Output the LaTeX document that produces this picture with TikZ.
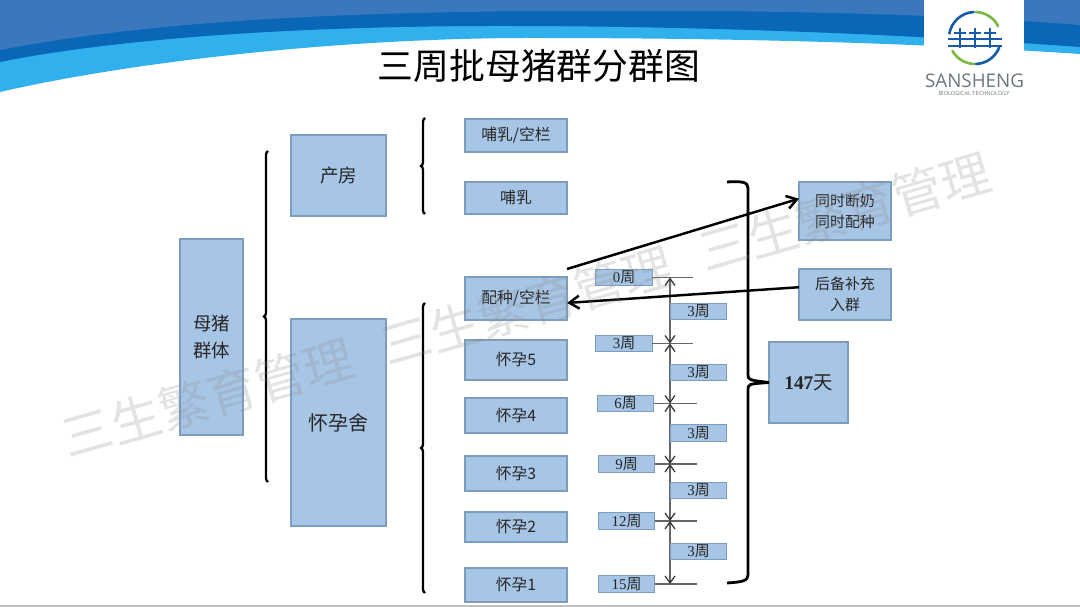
\documentclass[tikz,border=0pt]{standalone}
\usepackage{xcolor}
\usepackage{fontspec}
\setmainfont{Liberation Serif}
\newfontfamily\cjk{Noto Sans CJK SC}
\newfontfamily\logofont{Open Sans}
\usetikzlibrary{positioning,arrows.meta,decorations.pathreplacing}
\definecolor{BoxFill}{RGB}{167,197,229}
\definecolor{BoxLine}{RGB}{125,157,191}
\definecolor{BannerTop}{RGB}{58,119,189}
\definecolor{BannerMid}{RGB}{10,102,182}
\definecolor{BannerLow}{RGB}{49,176,238}
\definecolor{LogoBlue}{RGB}{24,92,168}
\definecolor{LogoGreen}{RGB}{122,186,66}
\definecolor{LogoGrey}{RGB}{110,118,126}
\tikzset{
  box/.style={draw=BoxLine, line width=0.8pt, fill=BoxFill, inner sep=0pt, outer sep=0pt, align=center, text=black!85, font=\cjk\fontsize{9}{13}\selectfont},
  roombox/.style={box, minimum width=1.9cm},
  penbox/.style={box, minimum width=2.04cm},
  weekbox/.style={box, minimum width=1.13cm, minimum height=0.33cm, font=\fontsize{8.5}{10}\selectfont},
  tickline/.style={draw=black!60, line width=0.6pt},
  dimline/.style={draw=black!60, line width=0.7pt, {Straight Barb[length=1.4mm,width=2mm,black!80]}-{Straight Barb[length=1.4mm,width=2mm,black!80]}},
  sidebrace/.style={draw=black, line width=1.3pt, decorate, decoration={brace,amplitude=0.08cm,aspect=0.5}},
  bigarrow/.style={draw=black, line width=1.4pt, -{Straight Barb[length=2mm,width=2.6mm]}},
  stamp/.style={rotate=16, text=black!45, text opacity=0.24, font=\cjk\fontsize{28.5}{28.5}\selectfont},
  logoarc/.style={line width=1.5pt, line cap=round}
}

\begin{document}
\begin{tikzpicture}[x=0.02cm, y=-0.02cm]
  \useasboundingbox (0,0) rectangle (1080,607);
  \fill[white] (0,0) rectangle (1080,607);
  \fill[BannerLow] (0,0) -- (0,92) .. controls (130,62) and (340,38) .. (530,38) .. controls (720,38) and (900,42) .. (1080,54) -- (1080,0) -- cycle;
  \fill[BannerMid] (0,0) -- (0,62) .. controls (120,38) and (300,26) .. (500,26) .. controls (700,26) and (900,34) .. (1080,47) -- (1080,0) -- cycle;
  \fill[BannerTop] (0,0) -- (0,50) .. controls (130,25) and (300,12) .. (560,11) .. controls (760,10) and (930,13) .. (1080,25) -- (1080,0) -- cycle;
  \fill[black!25] (0,605.5) rectangle (1080,607);

  \fill[white] (924,0) rectangle (1024,80);
  \draw[LogoBlue, logoarc] ([shift={(170:0.52cm)}]975,38) arc[start angle=170, end angle=93, radius=0.52cm];
  \draw[LogoGreen, logoarc] ([shift={(88:0.52cm)}]975,38) arc[start angle=88, end angle=27, radius=0.52cm];
  \draw[LogoGreen, logoarc] ([shift={(210:0.52cm)}]975,38) arc[start angle=210, end angle=268, radius=0.52cm];
  \draw[LogoBlue, logoarc] ([shift={(272:0.52cm)}]975,38) arc[start angle=272, end angle=339, radius=0.52cm];
  \foreach \barx in {960,975,990}{
    \draw[LogoBlue, line width=1.4pt] (\barx-6,33) -- (\barx+6,33);
    \draw[LogoBlue, line width=1.4pt] (\barx,28) -- (\barx,48);
  }
  \draw[LogoBlue, line width=1.6pt] (948,39) -- (1002,39);
  \draw[LogoBlue, line width=1.6pt] (948,46) -- (1002,46);
  \node[inner sep=0pt, text=LogoGrey, font=\logofont\fontsize{10.7}{12}\selectfont] (brand) at (974.5,81) {SANSHENG};
  \node[inner sep=0pt, text=LogoGrey, font=\logofont\fontsize{3.2}{4}\selectfont] (brandsub) at (974,93) {BIOLOGICAL TECHNOLOGY};

  \node[inner sep=0pt, text=black, font=\cjk\fontsize{20.4}{24}\selectfont] (title) at (539,66) {三周批母猪群分群图};

  \node[box, minimum width=1.26cm, minimum height=3.92cm, font=\cjk\fontsize{10.5}{15}\selectfont] (herd) at (211.5,337) {母猪\\群体};
  \node[roombox, minimum height=1.62cm, font=\cjk\fontsize{10.5}{13}\selectfont] (farrow) at (338.5,175.5) {产房};
  \node[roombox, minimum height=4.14cm, font=\cjk\fontsize{11.4}{13}\selectfont] (gest) at (338.5,422.5) {怀孕舍};

  \node[penbox, minimum height=0.66cm] (nurseA) at (516,135.5) {哺乳/空栏};
  \node[penbox, minimum height=0.64cm, below=0.6cm of nurseA] (nurseB) {哺乳};
  \node[penbox, minimum height=0.86cm] (breed) at (516,298.5) {配种/空栏};
  \node[penbox, minimum height=0.8cm, below=0.4cm of breed] (preg5) {怀孕5};
  \node[penbox, minimum height=0.7cm, below=0.36cm of preg5] (preg4) {怀孕4};
  \node[penbox, minimum height=0.7cm, below=0.46cm of preg4] (preg3) {怀孕3};
  \node[penbox, minimum height=0.6cm, below=0.42cm of preg3] (preg2) {怀孕2};
  \node[penbox, minimum height=0.68cm, below=0.52cm of preg2] (preg1) {怀孕1};

  \node[weekbox] (w0) at (624,277.5) {0\cjk 周};
  \node[weekbox] (w3) at (624,343.5) {3\cjk 周};
  \node[weekbox] (w6) at (625.5,403.5) {6\cjk 周};
  \node[weekbox] (w9) at (626.5,464) {9\cjk 周};
  \node[weekbox] (w12) at (626.5,521) {12\cjk 周};
  \node[weekbox] (w15) at (626.5,584) {15\cjk 周};

  \coordinate (t0) at (693,277.5);
  \coordinate (t3) at (693,343.5);
  \coordinate (t6) at (697,403.5);
  \coordinate (t9) at (697,464);
  \coordinate (t12) at (697,521);
  \coordinate (t15) at (697,584);
  \draw[tickline] (w0.east) -- (t0);
  \draw[tickline] (w3.east) -- (t3);
  \draw[tickline] (w6.east) -- (t6);
  \draw[tickline] (w9.east) -- (t9);
  \draw[tickline] (w12.east) -- (t12);
  \draw[tickline] (w15.east) -- (t15);

  \coordinate (c0) at (670,277.5);
  \coordinate (c3) at (670,343.5);
  \coordinate (c6) at (670,403.5);
  \coordinate (c9) at (670,464);
  \coordinate (c12) at (670,521);
  \coordinate (c15) at (670,584);
  \draw[dimline] (c0) -- (c3);
  \draw[dimline] (c3) -- (c6);
  \draw[dimline] (c6) -- (c9);
  \draw[dimline] (c9) -- (c12);
  \draw[dimline] (c12) -- (c15);

  \node[weekbox] (gapA) at (698.5,311.5) {3\cjk 周};
  \node[weekbox] (gapB) at (698.5,372.5) {3\cjk 周};
  \node[weekbox] (gapC) at (698.5,433) {3\cjk 周};
  \node[weekbox] (gapD) at (698.5,490.5) {3\cjk 周};
  \node[weekbox] (gapE) at (698.5,551.5) {3\cjk 周};

  \node[box, minimum width=1.84cm, minimum height=1.16cm, font=\cjk\fontsize{8.5}{12}\selectfont] (wean) at (845,211) {同时断奶\\同时配种};
  \node[box, minimum width=1.84cm, minimum height=1.02cm, font=\cjk\fontsize{8.5}{12}\selectfont] (backup) at (845,294.5) {后备补充\\入群};
  \node[box, minimum width=1.58cm, minimum height=1.62cm, font=\bfseries\fontsize{11}{13}\selectfont] (days) at (808.5,382.5) {147{\cjk\mdseries 天}};

  \coordinate (lbA) at (268,482);
  \coordinate (ltA) at (268,151);
  \coordinate (lbB) at (425,214);
  \coordinate (ltB) at (425,118);
  \coordinate (lbC) at (425,593);
  \coordinate (ltC) at (425,303);
  \draw[sidebrace] (lbA) -- (ltA);
  \draw[sidebrace] (lbB) -- (ltB);
  \draw[sidebrace] (lbC) -- (ltC);

  \coordinate (rt) at (727,182);
  \coordinate (rb) at (727,583);
  \draw[black, line width=1.6pt] (rt) .. controls (742,181) and (748,182) .. (748,188) -- (748,374) .. controls (748,380) .. (days.west) .. controls (748,384) .. (748,390) -- (748,575) .. controls (748,581) and (742,582) .. (rb);

  \coordinate (wstart) at (567,269);
  \draw[bigarrow] (wstart) -- (wean.165);
  \draw[bigarrow] (backup.171) -- (breed.-5);

  \node[stamp] (stampA) at (208,398) {三生繁育管理};
  \node[stamp] (stampB) at (527,306) {三生繁育管理};
  \node[stamp] (stampC) at (845,212) {三生繁育管理};
\end{tikzpicture}
\end{document}
